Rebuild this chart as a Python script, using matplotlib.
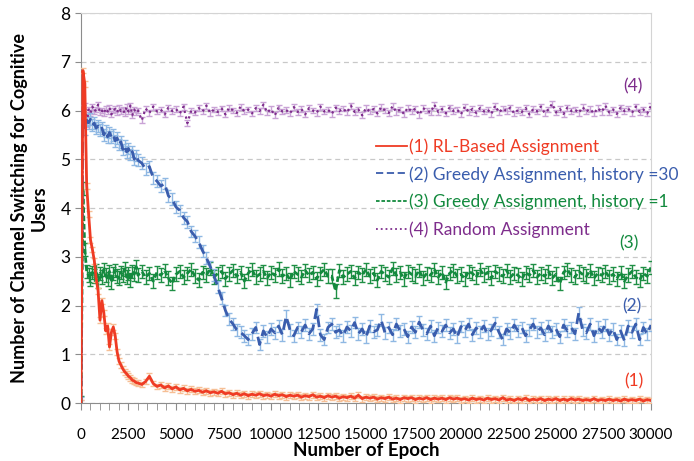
import numpy as np
import matplotlib
matplotlib.use('Agg')
import matplotlib.pyplot as plt
from matplotlib.ticker import MultipleLocator

plt.rcParams['font.family'] = ['Lato', 'DejaVu Sans']

# epochs: every 100 up to 3000, then every 200 up to 30000
epochs = np.concatenate([np.arange(0, 3001, 100), np.arange(3200, 30001, 200)])

rl = [0.0, 6.82, 6.55, 4.45, 3.88, 3.35, 3.15, 2.92, 2.55, 2.30, 1.70,
      2.10, 1.85, 1.48, 1.58, 1.15, 1.45, 1.56, 1.38, 1.05, 0.86,
      0.78, 0.70, 0.64, 0.60, 0.55, 0.52, 0.47, 0.45, 0.42, 0.41,
      0.38, 0.44, 0.55, 0.40, 0.34, 0.37, 0.31, 0.35, 0.29, 0.33,
      0.27, 0.30, 0.25, 0.28, 0.24, 0.26, 0.22, 0.25, 0.21, 0.23,
      0.20, 0.24, 0.19, 0.21, 0.17, 0.20, 0.16, 0.19, 0.15, 0.18,
      0.16, 0.19, 0.15, 0.17, 0.14, 0.18, 0.15, 0.17, 0.13, 0.16,
      0.14, 0.16, 0.12, 0.15, 0.13, 0.17, 0.12, 0.14, 0.11, 0.15,
      0.12, 0.14, 0.10, 0.13, 0.11, 0.14, 0.10, 0.16, 0.09, 0.12,
      0.10, 0.12, 0.08, 0.11, 0.09, 0.12, 0.08, 0.10, 0.07, 0.11,
      0.09, 0.11, 0.07, 0.10, 0.08, 0.11, 0.07, 0.10, 0.08, 0.10,
      0.07, 0.11, 0.08, 0.10, 0.07, 0.09, 0.06, 0.10, 0.07, 0.09,
      0.06, 0.10, 0.07, 0.09, 0.06, 0.11, 0.06, 0.08, 0.05, 0.09,
      0.06, 0.10, 0.05, 0.08, 0.06, 0.09, 0.05, 0.08, 0.06, 0.09,
      0.05, 0.08, 0.05, 0.09, 0.06, 0.08, 0.05, 0.07, 0.05, 0.09,
      0.05, 0.07, 0.05, 0.08, 0.05, 0.07, 0.04, 0.08, 0.05, 0.07,
      0.05, 0.08, 0.04, 0.07, 0.05]

greedy30 = [0.0, 6.00, 5.62, 5.80, 5.75, 5.82, 5.70, 5.74, 5.64, 5.68, 5.60,
            5.64, 5.50, 5.58, 5.46, 5.55, 5.45, 5.50, 5.38, 5.44, 5.30,
            5.36, 5.20, 5.28, 5.15, 5.22, 5.10, 5.16, 5.00, 5.08, 4.98,
            4.92, 4.80, 4.85, 4.62, 4.55, 4.45, 4.50, 4.25, 4.18, 4.02,
            3.95, 3.80, 3.72, 3.52, 3.42, 3.30, 3.12, 2.98, 2.80, 2.62,
            2.38, 2.15, 1.90, 1.72, 1.62, 1.50, 1.45, 1.38, 1.30, 1.42,
            1.55, 1.20, 1.48, 1.35, 1.52, 1.44, 1.58, 1.40, 1.78, 1.50,
            1.38, 1.55, 1.46, 1.60, 1.42, 1.52, 1.92, 1.40, 1.30, 1.55,
            1.62, 1.45, 1.50, 1.38, 1.56, 1.48, 1.65, 1.42, 1.52, 1.35,
            1.58, 1.46, 1.50, 1.70, 1.44, 1.55, 1.40, 1.62, 1.48, 1.52,
            1.36, 1.56, 1.45, 1.66, 1.50, 1.42, 1.58, 1.38, 1.55, 1.47,
            1.60, 1.44, 1.52, 1.35, 1.57, 1.48, 1.62, 1.40, 1.54, 1.46,
            1.58, 1.42, 1.50, 1.64, 1.45, 1.30, 1.52, 1.44, 1.60, 1.48,
            1.55, 1.38, 1.50, 1.62, 1.46, 1.54, 1.40, 1.58, 1.45, 1.52,
            1.36, 1.60, 1.48, 1.55, 1.42, 1.85, 1.50, 1.44, 1.62, 1.38,
            1.56, 1.46, 1.60, 1.40, 1.52, 1.30, 1.48, 1.28, 1.58, 1.45,
            1.62, 1.30, 1.55, 1.42, 1.60]

greedy1 = [0.0, 4.40, 3.15, 2.70, 2.62, 2.55, 2.68, 2.60, 2.72, 2.50, 2.66,
           2.58, 2.74, 2.62, 2.55, 2.70, 2.48, 2.66, 2.72, 2.60, 2.56,
           2.68, 2.62, 2.75, 2.58, 2.66, 2.52, 2.70, 2.64, 2.80, 2.62,
           2.70, 2.58, 2.66, 2.50, 2.68, 2.62, 2.72, 2.56, 2.45, 2.64,
           2.70, 2.58, 2.66, 2.74, 2.60, 2.52, 2.68, 2.62, 2.76, 2.58,
           2.66, 2.70, 2.55, 2.64, 2.72, 2.60, 2.68, 2.50, 2.66, 2.74,
           2.58, 2.64, 2.70, 2.56, 2.68, 2.62, 2.75, 2.60, 2.66, 2.52,
           2.70, 2.64, 2.58, 2.72, 2.62, 2.68, 2.55, 2.66, 2.74, 2.60,
           2.60, 2.30, 2.72, 2.58, 2.64, 2.70, 2.56, 2.68, 2.62, 2.74,
           2.60, 2.66, 2.52, 2.70, 2.64, 2.58, 2.76, 2.62, 2.68, 2.55,
           2.70, 2.64, 2.60, 2.72, 2.56, 2.66, 2.62, 2.74, 2.58, 2.68,
           2.48, 2.66, 2.72, 2.60, 2.64, 2.55, 2.70, 2.66, 2.58, 2.74,
           2.62, 2.68, 2.56, 2.70, 2.64, 2.60, 2.72, 2.58, 2.66, 2.62,
           2.54, 2.68, 2.62, 2.72, 2.58, 2.66, 2.60, 2.70, 2.56, 2.64,
           2.45, 2.68, 2.74, 2.62, 2.58, 2.70, 2.64, 2.60, 2.72, 2.56,
           2.66, 2.62, 2.70, 2.58, 2.64, 2.55, 2.68, 2.50, 2.62, 2.70,
           2.58, 2.52, 2.66, 2.60, 2.78]

random_assign = [0.0, 6.05, 6.10, 5.72, 6.02, 5.95, 6.08, 5.98, 6.02, 6.12, 5.96,
                 6.00, 5.94, 6.04, 5.98, 6.06, 5.92, 6.00, 6.03, 5.96, 6.05,
                 5.99, 6.02, 5.95, 6.07, 5.98, 6.10, 5.90, 6.02, 5.96, 6.00,
                 5.80, 6.04, 5.95, 6.08, 5.98, 6.02, 5.92, 6.06, 5.99, 6.03,
                 5.94, 6.08, 5.74, 6.00, 5.96, 6.05, 5.98, 6.10, 5.95, 6.02,
                 5.97, 6.04, 5.92, 6.06, 6.00, 5.95, 6.08, 5.98, 6.02, 5.94,
                 6.05, 5.99, 6.12, 5.96, 6.03, 5.90, 6.06, 5.98, 6.01, 5.94,
                 6.07, 5.97, 6.03, 5.92, 6.05, 6.00, 5.95, 6.08, 5.98, 6.02,
                 5.93, 6.06, 5.99, 6.04, 5.96, 6.10, 5.97, 6.02, 5.90, 6.05,
                 5.98, 6.03, 5.94, 6.07, 6.00, 5.95, 6.09, 5.97, 6.02, 5.93,
                 6.06, 5.98, 6.04, 5.91, 6.05, 6.00, 5.96, 6.12, 5.97, 6.03,
                 5.94, 6.06, 5.99, 6.02, 5.92, 6.08, 5.97, 6.03, 5.95, 6.05,
                 5.98, 6.02, 5.93, 6.10, 5.96, 6.04, 5.99, 6.06, 5.94, 6.01,
                 5.97, 6.05, 5.92, 6.03, 5.98, 6.08, 5.95, 6.02, 6.14, 5.96,
                 6.03, 5.93, 6.06, 5.99, 6.02, 5.95, 6.07, 5.98, 6.03, 5.94,
                 6.05, 5.97, 6.10, 5.96, 6.02, 5.93, 6.06, 5.99, 6.04, 5.95,
                 6.08, 5.97, 6.02, 5.94, 6.10]

labels = ['(1) RL-Based Assignment', '(2) Greedy Assignment, history =30',
          '(3) Greedy Assignment, history =1', '(4) Random Assignment']

fig = plt.figure(figsize=(6.94, 4.61), dpi=100)
ax = fig.add_axes([0.1167, 0.1258, 0.8213, 0.846])

# error bars first, lines on top
ax.errorbar(epochs, random_assign, yerr=0.06, fmt='none', ecolor='#c9a3d6', elinewidth=1, capsize=2, zorder=2)
ax.errorbar(epochs, greedy1, yerr=0.14, fmt='none', ecolor='#1f8f45', elinewidth=1, capsize=2, zorder=3)
ax.errorbar(epochs, greedy30, yerr=0.12, fmt='none', ecolor='#8fb8e3', elinewidth=1, capsize=2, zorder=4)
ax.errorbar(epochs, rl, yerr=0.06, fmt='none', ecolor='#f6bf95', elinewidth=1, capsize=2, zorder=5)

l4, = ax.plot(epochs, random_assign, color='#7e2d8c', linestyle=':', linewidth=1.6, zorder=6)
l3, = ax.plot(epochs, greedy1, color='#138a3e', linestyle=(0, (2, 1)), linewidth=2, zorder=7)
l2, = ax.plot(epochs, greedy30, color='#3a5dad', linestyle=(0, (4, 2)), linewidth=2, zorder=8)
l1, = ax.plot(epochs, rl, color='#ef3b24', linewidth=2, zorder=9)

leg = ax.legend([l1, l2, l3, l4], labels, loc='upper left', bbox_to_anchor=(0.505, 0.697),
                frameon=False, fontsize=12.5, labelcolor='linecolor', handlelength=1.8,
                handletextpad=0.1, labelspacing=0.65, borderaxespad=0)
for line in leg.get_lines():
    line.set_linewidth(1.3)

ax.text(29050, 6.5, '(4)', color='#7e2d8c', fontsize=12.5, ha='center', va='center')
ax.text(28850, 3.28, '(3)', color='#138a3e', fontsize=12.5, ha='center', va='center')
ax.text(29000, 1.99, '(2)', color='#3a5dad', fontsize=12.5, ha='center', va='center')
ax.text(29100, 0.45, '(1)', color='#ef3b24', fontsize=12.5, ha='center', va='center')

ax.set_xlim(0, 30000)
ax.set_ylim(0, 8)
ax.xaxis.set_major_locator(MultipleLocator(2500))
ax.xaxis.set_minor_locator(MultipleLocator(500))
ax.yaxis.set_major_locator(MultipleLocator(1))
ax.tick_params(axis='both', which='both', color='#8c8c8c')
ax.tick_params(axis='x', which='both', length=5, labelsize=11, pad=13)
ax.tick_params(axis='y', length=4, labelsize=12.5)
ax.grid(True, axis='y', linestyle=(0, (4, 3)), color='#c8c8c8', linewidth=0.9)
ax.set_axisbelow(True)
for side in ['left', 'bottom']:
    ax.spines[side].set_color('#8c8c8c')
for side in ['top', 'right']:
    ax.spines[side].set_color('#d4d4d4')

ax.set_xlabel('Number of Epoch', fontweight='bold', fontsize=13.5, labelpad=0)
ax.set_ylabel('Number of Channel Switching for Cognitive\nUsers', fontweight='bold',
              fontsize=13, labelpad=9, linespacing=1.2)

fig.savefig('out.png', dpi=100)
